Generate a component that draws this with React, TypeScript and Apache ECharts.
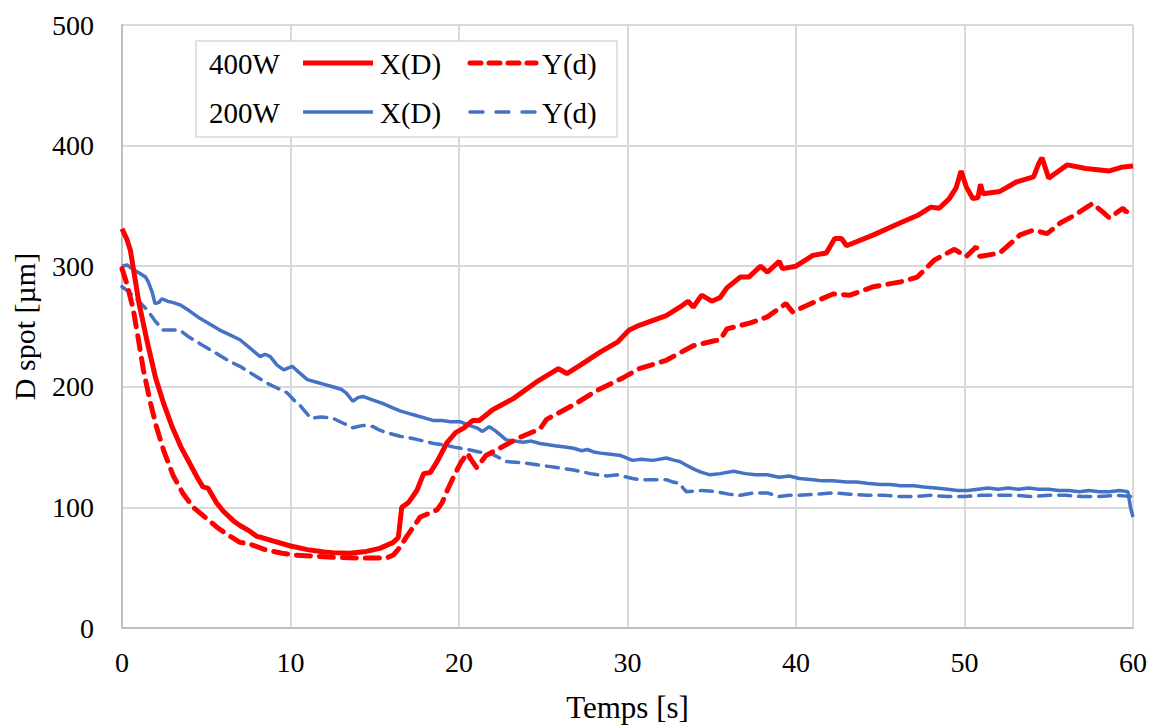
import React, { useEffect, useRef } from "react";
import * as echarts from "echarts";

// Time [s] and D spot [µm] pairs
const x400: number[][] = [
  [0, 331], [0.3, 322], [0.5, 313], [1.0, 270], [1.5, 237], [2.0, 207], [2.5, 185], [3.0, 166],
  [3.5, 150], [4.0, 137], [4.5, 124], [4.8, 117], [5.1, 116], [5.6, 104], [6.0, 97], [6.6, 89],
  [7.0, 85], [7.5, 81], [8.0, 76], [8.3, 75], [9.0, 72], [10, 68], [11, 65], [12, 63], [12.5, 62.5],
  [13.5, 62], [14.5, 63.5], [15.3, 66], [16.1, 71], [16.4, 75], [16.6, 100], [17.0, 104], [17.5, 114],
  [17.9, 128], [18.3, 129], [18.7, 138], [19.3, 154], [19.8, 162], [20.3, 166], [20.8, 172], [21.2, 172],
  [22.0, 181], [23.2, 190], [24.6, 204], [25.9, 215], [26.4, 211], [27.2, 218], [28.4, 229], [29.4, 237],
  [30.1, 247], [30.7, 251], [32.3, 259], [33.1, 266], [33.6, 271], [33.9, 266], [34.4, 276], [35.0, 271],
  [35.5, 274], [35.9, 282], [36.7, 291], [37.2, 291], [37.9, 300], [38.3, 295], [39.0, 304], [39.2, 298],
  [40.0, 300], [41.0, 309], [41.8, 311], [42.3, 323], [42.7, 323], [43.0, 317], [44.6, 326], [46.2, 336],
  [47.2, 342], [48.0, 349], [48.5, 348], [49.1, 356], [49.5, 365], [49.8, 379], [50.1, 366], [50.5, 356],
  [50.8, 357], [50.95, 368], [51.1, 360], [52.1, 362], [53.1, 370], [54.1, 374], [54.4, 385], [54.6, 390],
  [55.0, 373], [55.3, 376], [56.1, 384], [57.2, 381], [58.6, 379], [59.3, 382], [60, 383],
];

const y400: number[][] = [
  [0, 298], [0.3, 285], [0.67, 264], [1.0, 237], [1.27, 214], [1.7, 186], [2.06, 166], [2.5, 146],
  [3.05, 126], [3.6, 112], [4.23, 100], [5.0, 91], [5.6, 84], [6.3, 77], [7.0, 71], [7.5, 70],
  [8.6, 64.5], [9.5, 62], [10.2, 60.5], [11.5, 59.5], [12.5, 58.6], [14, 58], [15.7, 58], [16.1, 60.5],
  [16.5, 67], [16.9, 76], [17.3, 84], [17.7, 92], [18.2, 95], [18.7, 98], [19.0, 104], [19.3, 114],
  [19.7, 126], [20.1, 137], [20.5, 145], [20.7, 140], [21.05, 133], [21.6, 143], [22.4, 149], [23.6, 158],
  [24.8, 165], [25.2, 173], [26.8, 185], [28.2, 197], [29.8, 208], [30.7, 215], [32.3, 222], [33.9, 234],
  [35.1, 238], [35.5, 239], [35.9, 248], [37.3, 253], [38.3, 258], [39.4, 269], [39.8, 262], [41.2, 271],
  [42.2, 277], [43.2, 276], [44.6, 283], [46.2, 287], [47.2, 291], [48.2, 305], [49.4, 314], [50.1, 308],
  [50.7, 316], [50.9, 308], [52.1, 311], [53.3, 326], [54.1, 330], [54.9, 327], [55.7, 336], [56.5, 342],
  [57.6, 352], [58.2, 345], [58.6, 340], [59.4, 348], [59.6, 345], [60, 349],
];

const x200: number[][] = [
  [0, 300], [0.3, 301], [0.7, 297], [1.07, 294], [1.4, 291], [1.56, 287], [1.8, 278], [1.96, 269],
  [2.2, 270], [2.36, 273], [2.7, 271], [3.0, 270], [3.44, 268], [4.0, 263], [4.6, 257], [5.2, 252],
  [5.8, 247], [6.4, 243], [7.0, 239], [7.6, 232], [8.2, 225], [8.5, 227], [8.8, 225], [9.2, 218],
  [9.6, 214], [10.1, 217], [10.5, 212], [11.0, 206], [11.5, 204], [12.0, 202], [12.5, 200], [13.0, 198],
  [13.3, 195], [13.7, 188], [14.0, 191], [14.3, 192], [14.9, 189], [15.5, 186], [16.0, 183], [16.5, 180],
  [17.0, 178], [17.5, 176], [18.0, 174], [18.5, 172], [19.0, 172], [19.5, 171], [20.1, 171], [20.6, 168],
  [21.05, 166], [21.4, 163], [21.8, 167], [22.2, 163], [22.8, 156], [23.3, 155], [23.8, 154], [24.3, 155],
  [24.8, 153], [25.3, 152], [25.8, 151], [26.3, 150], [26.8, 149], [27.3, 147], [27.6, 148], [28.0, 146],
  [28.4, 145], [29.0, 144], [29.6, 143], [30.3, 139], [30.8, 140], [31.5, 139], [32.3, 141], [32.8, 139],
  [33.1, 138], [33.5, 135], [33.9, 132], [34.4, 129], [34.9, 127], [35.5, 128], [36.3, 130], [37.0, 128],
  [37.6, 127], [38.3, 127], [39.0, 125], [39.6, 126], [40.2, 124], [41.0, 123], [41.6, 122], [42.2, 122],
  [43.0, 121], [43.6, 121], [44.2, 120], [45.0, 119], [45.6, 119], [46.2, 118], [47.0, 118], [47.6, 117],
  [48.3, 116], [49.0, 115], [49.6, 114], [50.2, 114], [50.8, 115], [51.4, 116], [52.0, 115], [52.6, 116],
  [53.2, 115], [53.8, 116], [54.4, 115], [55.0, 115], [55.6, 114], [56.2, 114], [56.8, 113], [57.4, 114],
  [58.0, 113], [58.6, 113], [59.2, 114], [59.7, 113], [59.85, 100], [60, 92],
];

const y200: number[][] = [
  [0, 283], [0.3, 280], [0.67, 275], [1.0, 271], [1.47, 264], [2.0, 254], [2.45, 247], [3.0, 247],
  [3.44, 247], [4.0, 241], [4.6, 236], [5.2, 231], [5.8, 226], [6.4, 221], [7.0, 217], [7.8, 210],
  [8.6, 203], [9.2, 199], [9.8, 195], [10.2, 189], [10.6, 184], [11.2, 174], [11.8, 175], [12.5, 174],
  [13.1, 170], [13.7, 166], [14.3, 168], [14.9, 167], [15.3, 164], [15.7, 162], [16.5, 159], [17.3, 157],
  [17.9, 155], [18.5, 153], [19.1, 152], [19.7, 150], [20.1, 149], [20.5, 148], [21.2, 146], [22.0, 144],
  [22.8, 138], [23.8, 137], [24.8, 135], [25.8, 133], [26.8, 131], [27.8, 128], [28.8, 126], [29.4, 127],
  [30.3, 124], [30.7, 123], [31.5, 123], [32.3, 123], [32.7, 121], [33.1, 120], [33.3, 116], [33.5, 113],
  [34.4, 114], [35.3, 113], [36.0, 111], [36.7, 110], [37.5, 112], [38.3, 112], [39.0, 109], [39.6, 110],
  [40.2, 110], [41.2, 111], [42.2, 112], [43.2, 111], [44.2, 110], [45.2, 110], [46.2, 109], [47.0, 109],
  [48.0, 110], [49.0, 109], [50.0, 109], [51.0, 110], [52.0, 110], [53.0, 110], [54.0, 109], [55.0, 110],
  [56.0, 110], [57.0, 109], [58.0, 109], [59.0, 110], [60, 109],
];

const legendRows = ["400W", "200W"];
const legendItems = ["X(D)", "Y(d)"];

const FONT = "'Liberation Serif', 'Times New Roman', serif";
const RED = "#ff0000";
const BLUE = "#4472c4";

export default function App() {
  const ref = useRef<HTMLDivElement>(null);

  useEffect(() => {
    if (!ref.current) return;
    const chart = echarts.init(ref.current, undefined, { renderer: "svg" });

    const textStyle = (text: string, x: number, y: number) => ({
      type: "text",
      x,
      y,
      z: 101,
      style: { text, fill: "#000", font: `29px ${FONT}`, textVerticalAlign: "middle", verticalAlign: "middle" },
    });
    const seg = (x1: number, x2: number, y: number, color: string, w: number, dash?: number[]) => ({
      type: "line",
      z: 101,
      shape: { x1, y1: y, x2, y2: y },
      style: { stroke: color, lineWidth: w, lineDash: dash, lineCap: dash ? "round" : "butt" },
    });

    chart.setOption({
      animation: false,
      backgroundColor: "#fff",
      grid: { left: 122, right: 20, top: 25, bottom: 97, outerBoundsMode: "none" },
      xAxis: {
        type: "value",
        min: 0,
        max: 60,
        interval: 10,
        name: "Temps [s]",
        nameLocation: "middle",
        nameGap: 64,
        nameTextStyle: { fontFamily: FONT, fontSize: 31, color: "#000" },
        axisLine: { show: true, lineStyle: { color: "#bfbfbf", width: 2 } },
        axisTick: { show: false },
        axisLabel: { fontFamily: FONT, fontSize: 28, color: "#000", margin: 20 },
        splitLine: { show: true, lineStyle: { color: "#d9d9d9", width: 2 } },
      },
      yAxis: {
        type: "value",
        min: 0,
        max: 500,
        interval: 100,
        name: "D spot [µm]",
        nameLocation: "middle",
        nameGap: 83,
        nameTextStyle: { fontFamily: FONT, fontSize: 30, color: "#000" },
        axisLine: { show: true, lineStyle: { color: "#bfbfbf", width: 2 } },
        axisTick: { show: false },
        axisLabel: { fontFamily: FONT, fontSize: 28, color: "#000", margin: 28 },
        splitLine: { show: true, lineStyle: { color: "#d9d9d9", width: 2 } },
      },
      series: [
        {
          name: "200W Y(d)",
          type: "line",
          data: y200,
          showSymbol: false,
          lineStyle: { color: BLUE, width: 3.5, type: [12, 8], cap: "round" },
        },
        {
          name: "200W X(D)",
          type: "line",
          data: x200,
          showSymbol: false,
          lineStyle: { color: BLUE, width: 3.5 },
        },
        {
          name: "400W Y(d)",
          type: "line",
          data: y400,
          showSymbol: false,
          lineStyle: { color: RED, width: 5, type: [14, 9], cap: "round" },
        },
        {
          name: "400W X(D)",
          type: "line",
          data: x400,
          showSymbol: false,
          lineStyle: { color: RED, width: 5 },
        },
      ],
      graphic: [
        {
          type: "rect",
          z: 100,
          shape: { x: 196, y: 41, width: 421, height: 96 },
          style: { fill: "#fff", stroke: "#d9d9d9", lineWidth: 1.5 },
        },
        textStyle(legendRows[0], 209, 64),
        seg(303, 373, 63, RED, 5),
        textStyle(legendItems[0], 380, 64),
        seg(470, 536, 63, RED, 5, [11, 8]),
        textStyle(legendItems[1], 542, 64),
        textStyle(legendRows[1], 209, 113),
        seg(303, 373, 112, BLUE, 3.5),
        textStyle(legendItems[0], 380, 113),
        seg(470, 536, 112, BLUE, 3.5, [13, 13]),
        textStyle(legendItems[1], 542, 113),
      ],
    });

    return () => chart.dispose();
  }, []);

  return <div ref={ref} style={{ position: "fixed", left: 0, top: 0, width: 1153, height: 725 }} />;
}
